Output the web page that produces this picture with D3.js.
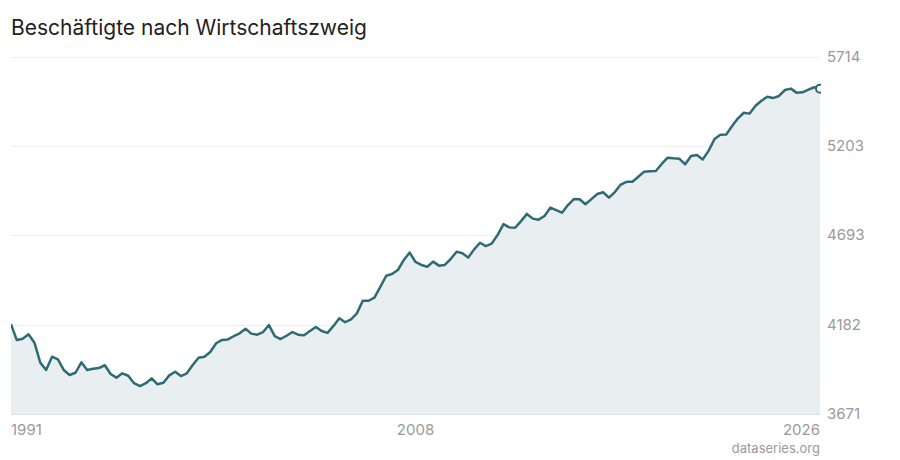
<!DOCTYPE html>
<html>
<head>
<meta charset="utf-8">
<script src="https://cdn.jsdelivr.net/npm/d3@7"></script>
<style>
  body { margin: 0; background: #fff; }
  text { font-family: Inter, "Noto Sans", sans-serif; }
</style>
</head>
<body>
<div class="chart"></div>
<script>
// quarterly values, 1991 Q1 .. 2025 Q3 (in 1000)
var values = [
  4185, 4094, 4102, 4127, 4079, 3965, 3923, 3999, 3984, 3923,
  3894, 3907, 3967, 3923, 3930, 3934, 3950, 3900, 3879, 3904,
  3890, 3847, 3831, 3847, 3875, 3841, 3850, 3892, 3913, 3888,
  3904, 3951, 3993, 3999, 4026, 4076, 4095, 4098, 4116, 4133,
  4159, 4131, 4125, 4140, 4180, 4117, 4100, 4119, 4140, 4125,
  4121, 4146, 4169, 4146, 4135, 4175, 4219, 4196, 4213, 4247,
  4319, 4319, 4337, 4399, 4462, 4472, 4495, 4552, 4595, 4541,
  4524, 4514, 4543, 4520, 4524, 4558, 4600, 4591, 4566, 4613,
  4651, 4632, 4646, 4695, 4758, 4739, 4737, 4775, 4816, 4789,
  4783, 4804, 4852, 4838, 4823, 4867, 4901, 4900, 4871, 4901,
  4930, 4940, 4909, 4941, 4984, 5000, 5000, 5029, 5058, 5060,
  5062, 5102, 5138, 5134, 5132, 5100, 5147, 5153, 5128, 5178,
  5245, 5269, 5271, 5319, 5363, 5395, 5390, 5435, 5464, 5487,
  5479, 5491, 5525, 5533, 5510, 5512, 5527, 5541, 5533
];
var startYear = 1991;
var yTicks = [3671, 4182, 4693, 5203, 5714];
var xTickLabels = ["1991", "2008", "2026"];
var title = "Beschäftigte nach Wirtschaftszweig";
var source = "dataseries.org";

const drawChart = () => {
  const width = 900, height = 460;
  const plotLeft = 11, plotRight = 820, plotTop = 57, plotBottom = 414;
  const lineColor = "#2f6b74";

  const data = values.map((v, i) => ({ date: new Date(startYear + Math.floor(i / 4), (i % 4) * 3, 1), value: v }));

  const svg = d3.select(".chart")
    .append("svg")
    .attr("width", width)
    .attr("height", height);

  const x = d3.scaleTime()
    .domain(d3.extent(data, d => d.date))
    .range([plotLeft, plotRight]);

  const y = d3.scaleLinear()
    .domain([yTicks[0], yTicks[yTicks.length - 1]])
    .range([plotBottom, plotTop]);

  svg.append("defs")
    .append("clipPath")
    .attr("id", "plotClip")
    .append("rect")
    .attr("x", plotLeft)
    .attr("y", 0)
    .attr("width", plotRight - plotLeft + 1)
    .attr("height", plotBottom + 1);

  // grid
  svg.append("g")
    .selectAll("line")
    .data(yTicks)
    .join("line")
    .attr("x1", plotLeft)
    .attr("x2", plotRight)
    .attr("y1", d => Math.round(y(d)) + 0.5)
    .attr("y2", d => Math.round(y(d)) + 0.5)
    .attr("stroke", "#efefef")
    .attr("stroke-width", 1);

  const area = d3.area()
    .x(d => x(d.date))
    .y0(y(yTicks[0]))
    .y1(d => y(d.value));

  const line = d3.line()
    .x(d => x(d.date))
    .y(d => y(d.value));

  const plot = svg.append("g").attr("clip-path", "url(#plotClip)");

  plot.append("path")
    .datum(data)
    .attr("d", area)
    .attr("fill", "#e9eef1");

  // bottom edge over the fill
  svg.append("line")
    .attr("x1", plotLeft)
    .attr("x2", plotRight)
    .attr("y1", Math.round(y(yTicks[0])) + 0.5)
    .attr("y2", Math.round(y(yTicks[0])) + 0.5)
    .attr("stroke", "#dde2e5");

  plot.append("path")
    .datum(data)
    .attr("d", line)
    .attr("fill", "none")
    .attr("stroke", lineColor)
    .attr("stroke-width", 2.5)
    .attr("stroke-linejoin", "round");

  const last = data[data.length - 1];
  plot.append("circle")
    .attr("cx", x(last.date))
    .attr("cy", y(last.value))
    .attr("r", 4)
    .attr("fill", "#fff")
    .attr("stroke", lineColor)
    .attr("stroke-width", 2);

  // y labels
  svg.append("g")
    .selectAll("text")
    .data(yTicks)
    .join("text")
    .attr("x", 827)
    .attr("y", d => y(d) + 5)
    .attr("font-size", 15)
    .attr("fill", "#9a9a9a")
    .text(d => d);

  // x labels: first, middle, last
  const xTickDates = [data[0].date, data[Math.floor((data.length - 1) / 2)].date, last.date];
  svg.append("g")
    .selectAll("text")
    .data(xTickDates)
    .join("text")
    .attr("x", d => x(d))
    .attr("y", 435)
    .attr("font-size", 15)
    .attr("fill", "#9a9a9a")
    .attr("text-anchor", (d, i) => i === 0 ? "start" : i === 1 ? "middle" : "end")
    .text((d, i) => xTickLabels[i]);

  svg.append("text")
    .attr("x", plotRight)
    .attr("y", 453)
    .attr("font-size", 13)
    .attr("fill", "#9a9a9a")
    .attr("text-anchor", "end")
    .text(source);

  svg.append("text")
    .attr("x", 11)
    .attr("y", 35)
    .attr("font-size", 21)
    .attr("fill", "#222")
    .text(title);
};

drawChart();
</script>
</body>
</html>
